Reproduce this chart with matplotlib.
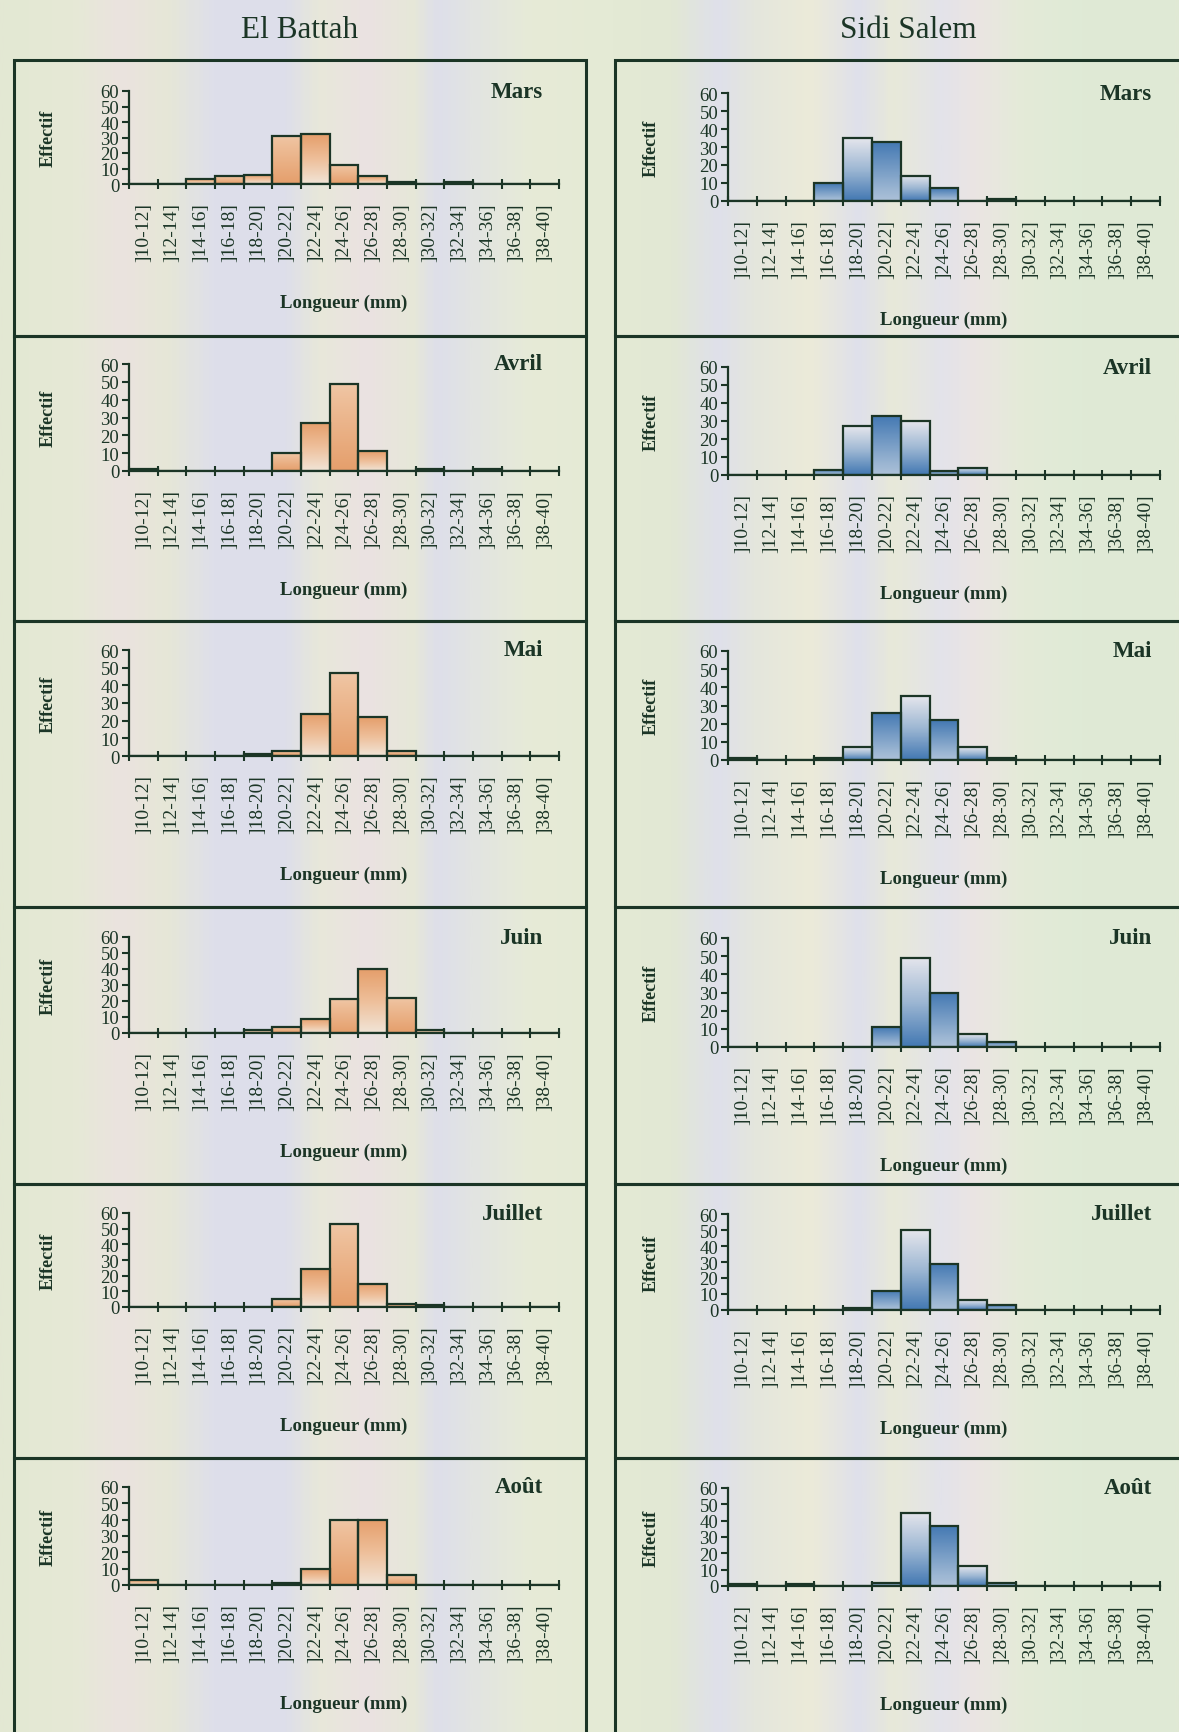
import numpy as np
import matplotlib
matplotlib.use("Agg")
import matplotlib.pyplot as plt
from matplotlib.colors import LinearSegmentedColormap
from matplotlib.patches import Rectangle

plt.rcParams['font.family'] = ['Liberation Serif', 'DejaVu Serif']

# length classes (mm)
classes = ["]10-12]", "]12-14]", "]14-16]", "]16-18]", "]18-20]", "]20-22]", "]22-24]",
           "]24-26]", "]26-28]", "]28-30]", "]30-32]", "]32-34]", "]34-36]", "]36-38]", "]38-40]"]
months = ["Mars", "Avril", "Mai", "Juin", "Juillet", "Août"]
sites = ["El Battah", "Sidi Salem"]

# El Battah counts per class
eb_mars = [0, 0, 3, 5, 6, 31, 32, 12, 5, 1, 0, 1, 0, 0, 0]
eb_avril = [1, 0, 0, 0, 0, 10, 27, 49, 11, 0, 1, 0, 1, 0, 0]
eb_mai = [0, 0, 0, 0, 1, 3, 24, 47, 22, 3, 0, 0, 0, 0, 0]
eb_juin = [0, 0, 0, 0, 2, 4, 9, 21, 40, 22, 2, 0, 0, 0, 0]
eb_juillet = [0, 0, 0, 0, 0, 5, 24, 53, 15, 2, 1, 0, 0, 0, 0]
eb_aout = [3, 0, 0, 0, 0, 1, 10, 40, 40, 6, 0, 0, 0, 0, 0]

# Sidi Salem counts per class
ss_mars = [0, 0, 0, 10, 35, 33, 14, 7, 0, 1, 0, 0, 0, 0, 0]
ss_avril = [0, 0, 0, 3, 27, 33, 30, 2, 4, 0, 0, 0, 0, 0, 0]
ss_mai = [1, 0, 0, 1, 7, 26, 35, 22, 7, 1, 0, 0, 0, 0, 0]
ss_juin = [0, 0, 0, 0, 0, 11, 49, 30, 7, 3, 0, 0, 0, 0, 0]
ss_juillet = [0, 0, 0, 0, 1, 12, 50, 29, 6, 3, 0, 0, 0, 0, 0]
ss_aout = [1, 0, 1, 0, 0, 2, 45, 37, 12, 2, 0, 0, 0, 0, 0]

eb_data = [eb_mars, eb_avril, eb_mai, eb_juin, eb_juillet, eb_aout]
ss_data = [ss_mars, ss_avril, ss_mai, ss_juin, ss_juillet, ss_aout]

W, H = 1179, 1733
fig = plt.figure(figsize=(W / 100, H / 100), dpi=100)

ink = '#1b3526'

# faded, striped paper background
bg = fig.add_axes([0, 0, 1, 1], zorder=-10)
bg_cmap = LinearSegmentedColormap.from_list('paper', [
    (0.00, '#e3e8d3'), (0.06, '#e6e9d6'), (0.10, '#ebe3df'), (0.14, '#e6e7d7'),
    (0.18, '#dedfeb'), (0.24, '#dddeea'), (0.27, '#e8e8da'), (0.31, '#ebe2e2'),
    (0.35, '#e6e8d8'), (0.37, '#dedfea'), (0.40, '#e2e4e2'), (0.45, '#e7ebd7'),
    (0.52, '#e4ead5'), (0.57, '#e2e8d4'), (0.61, '#dfe0eb'), (0.64, '#e4e6dd'),
    (0.69, '#ecebd9'), (0.73, '#dfe0eb'), (0.76, '#e8e9d9'), (0.80, '#e3e3ea'),
    (0.83, '#ebe5e3'), (0.87, '#e4ebd8'), (0.92, '#dfead6'), (1.00, '#e0e9d5')])
bg.imshow(np.linspace(0, 1, 400).reshape(1, -1), aspect='auto', cmap=bg_cmap,
          extent=[0, 1, 0, 1])
bg.set_xlim(0, 1)
bg.set_ylim(0, 1)
bg.axis('off')

orange = LinearSegmentedColormap.from_list('orange', ['#f1e4d6', '#eebf9a', '#e59f6c'])
blue = LinearSegmentedColormap.from_list('blue', ['#e4e5ec', '#9db7d3', '#4479b3'])

# panel frames and axes positions (pixels)
box_x = [(14, 586), (615, 1190)]
box_rows = [61, 337, 622, 908, 1185, 1459, 1745]
ax_x = [(129, 559), (728, 1160)]
ax_top = [[92, 365, 651, 938, 1214, 1488], [94, 368, 652, 939, 1215, 1489]]
ax_base = [[185, 472, 757, 1034, 1308, 1586], [202, 476, 761, 1048, 1311, 1587]]
month_x = [543, 1152]
ylab_x = [57, 660]

x = np.arange(len(classes))

for col, (site, data, cmap) in enumerate(zip(sites, [eb_data, ss_data], [orange, blue])):
    fig.text(sum(box_x[col]) / 2 / W if col == 0 else 908 / W, 1 - 30 / H, site,
             ha='center', va='center', fontsize=22.5, color=ink)
    for row, (month, values) in enumerate(zip(months, data)):
        bx0, bx1 = box_x[col]
        by0, by1 = box_rows[row], box_rows[row + 1]
        fig.patches.append(Rectangle((bx0 / W, 1 - by1 / H), (bx1 - bx0) / W, (by1 - by0) / H,
                                     transform=fig.transFigure, fill=False,
                                     edgecolor=ink, linewidth=2.2, zorder=1))

        l, r = ax_x[col]
        t, b = ax_top[col][row], ax_base[col][row]
        ax = fig.add_axes([l / W, 1 - b / H, (r - l) / W, (b - t) / H])
        ax.patch.set_alpha(0)

        bars = ax.bar(x, values, width=1.0, facecolor='none', edgecolor=ink,
                      linewidth=1.6, zorder=3)
        for k, (bar, v) in enumerate(zip(bars, values)):
            if v <= 0:
                continue
            grad = np.linspace(1, 0, 50).reshape(-1, 1) if col == 0 else np.linspace(0, 1, 50).reshape(-1, 1)
            if k % 2:
                grad = 1 - 0.6 * grad
            im = ax.imshow(grad, aspect='auto', cmap=cmap, vmin=0, vmax=1,
                           extent=[k - 0.5, k + 0.5, 0, v], origin='upper', zorder=2)
            im.set_clip_path(bar)

        ax.set_xlim(-0.5, len(classes) - 0.5)
        ax.set_ylim(0, 60)
        ax.set_yticks(range(0, 61, 10))
        ax.set_xticks(x)
        ax.set_xticklabels(classes, rotation=90, fontsize=14, color=ink)
        ax.set_xticks(np.arange(-0.5, len(classes)), minor=True)
        ax.tick_params(axis='x', which='major', length=0, pad=13)
        ax.tick_params(axis='x', which='minor', length=7, width=1.5, direction='inout', color=ink)
        ax.tick_params(axis='y', length=5, width=1.5, color=ink, labelsize=13.5, labelcolor=ink, pad=2)
        for s in ['top', 'right']:
            ax.spines[s].set_visible(False)
        for s in ['left', 'bottom']:
            ax.spines[s].set_color(ink)
            ax.spines[s].set_linewidth(1.6)

        ax.set_ylabel("Effectif", fontsize=13, fontweight='bold', color=ink)
        ax.yaxis.set_label_coords((ylab_x[col] - l) / (r - l), 0.5)
        ax.set_xlabel("Longueur (mm)", fontsize=13.5, fontweight='bold', color=ink)
        ax.xaxis.set_label_coords(0.5, -110 / (b - t))
        ax.text((month_x[col] - l) / (r - l), 1.0, month, transform=ax.transAxes,
                ha='right', va='center', fontsize=16.5, fontweight='bold', color=ink)

fig.savefig("out.png", dpi=100)
